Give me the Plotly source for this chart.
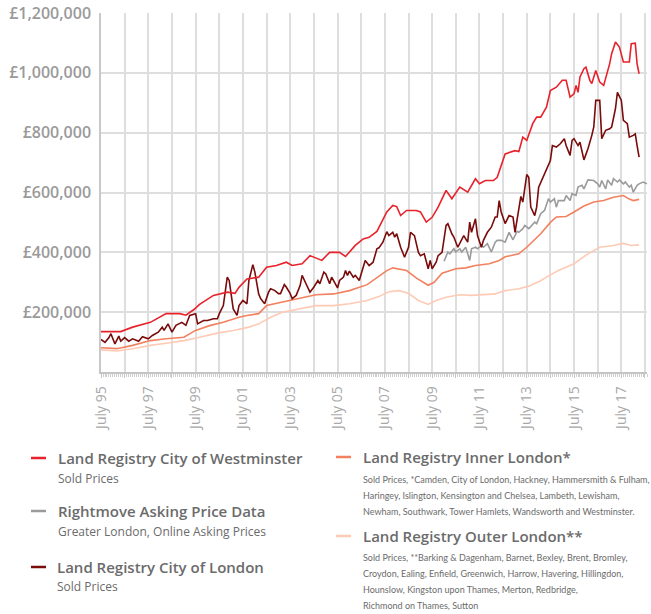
import plotly.graph_objects as go

# ---------------- data (values in £ thousands) ----------------
westminster_dates = ["1995-07","1996-05","1996-11","1997-08","1998-04","1998-11","1999-02","1999-06","1999-09","2000-04",
    "2000-11","2001-03","2001-05","2001-09","2002-03","2002-07","2002-12","2003-05","2003-08","2004-01",
    "2004-05","2004-11","2005-03","2005-08","2005-11","2006-04","2006-08","2006-11","2007-03","2007-08",
    "2007-11","2008-01","2008-03","2008-06","2008-11","2009-01","2009-04","2009-07","2009-10","2010-02",
    "2010-05","2010-09","2011-01","2011-05","2011-07","2011-10","2012-02","2012-04","2012-08","2012-11",
    "2013-01","2013-03","2013-05","2013-07","2013-10","2013-12","2014-02","2014-05","2014-07","2014-10",
    "2015-01","2015-03","2015-05","2015-07","2015-08","2015-09","2015-10","2015-12","2016-01","2016-03",
    "2016-04","2016-06","2016-08","2016-10","2017-01","2017-02","2017-04","2017-06","2017-08","2017-11",
    "2017-12","2018-02","2018-03","2018-04"]
westminster_k = [135,135,150,166,195,195,190,208,226,256,
    267,263,283,311,317,350,356,367,356,362,
    389,373,400,400,386,423,445,450,470,535,
    557,553,523,540,540,535,501,517,551,607,
    579,618,601,646,629,640,640,651,729,735,
    740,737,785,774,830,852,852,885,941,952,
    975,975,919,930,958,935,986,1014,1019,975,
    964,1008,969,958,1030,1064,1103,1086,1036,1036,
    1097,1099,1030,997]

london_dates = ["1995-07","1995-09","1995-11","1995-12","1996-02","1996-04","1996-05","1996-07","1996-09","1996-11",
    "1997-02","1997-04","1997-07","1997-09","1997-12","1998-02","1998-03","1998-05","1998-07","1998-09",
    "1998-12","1999-02","1999-04","1999-07","1999-08","1999-11","2000-01","2000-04","2000-06","2000-07",
    "2000-09","2000-11","2000-12","2001-02","2001-04","2001-05","2001-07","2001-09","2001-10","2001-12",
    "2002-01","2002-03","2002-04","2002-06","2002-08","2002-09","2002-11","2003-01","2003-02","2003-04",
    "2003-05","2003-07","2003-08","2003-10","2003-12","2004-01","2004-03","2004-05","2004-07","2004-09",
    "2004-10","2004-12","2005-01","2005-03","2005-04","2005-07","2005-08","2005-10","2005-11","2005-12",
    "2006-01","2006-03","2006-04","2006-06","2006-08","2006-09","2006-11","2007-01","2007-03","2007-04",
    "2007-06","2007-08","2007-09","2007-11","2007-12","2008-01","2008-03","2008-05","2008-07","2008-08",
    "2008-10","2008-12","2009-01","2009-03","2009-05","2009-06","2009-07","2009-09","2009-10","2009-12",
    "2010-02","2010-03","2010-05","2010-06","2010-08","2010-10","2010-11","2011-01","2011-02","2011-03",
    "2011-05","2011-06","2011-08","2011-09","2011-11","2012-01","2012-03","2012-04","2012-05","2012-06",
    "2012-08","2012-10","2012-12","2013-01","2013-03","2013-04","2013-05","2013-07","2013-08","2013-09",
    "2013-11","2013-12","2014-01","2014-03","2014-05","2014-07","2014-08","2014-10","2014-12","2015-02",
    "2015-03","2015-05","2015-06","2015-07","2015-09","2015-10","2015-12","2016-02","2016-04","2016-05",
    "2016-06","2016-08","2016-09","2016-11","2017-01","2017-02","2017-04","2017-05","2017-07","2017-08",
    "2017-10","2017-11","2018-01","2018-02","2018-03","2018-04"]
london_k = [109,99,115,128,94,120,103,115,103,111,
    103,118,111,122,133,150,139,161,133,156,
    166,156,189,195,161,172,172,178,178,195,
    222,317,306,211,189,222,239,228,306,359,
    334,261,245,228,267,278,273,262,262,292,
    284,262,245,256,289,323,295,267,284,306,
    295,334,328,295,317,281,306,317,339,323,
    337,317,323,306,350,373,356,367,412,415,
    434,469,456,467,451,462,417,384,417,467,
    456,400,389,395,345,373,345,367,389,400,
    490,496,462,451,417,445,456,434,501,467,
    512,456,417,440,467,484,518,518,573,535,
    496,523,518,467,551,587,568,660,651,551,
    523,551,618,646,674,707,757,752,763,780,
    757,724,774,780,757,768,709,746,791,819,
    908,908,780,808,813,819,880,935,908,841,
    830,785,791,796,757,718]

rightmove_dates = ["2010-01","2010-03","2010-04","2010-06","2010-07","2010-09","2010-10","2010-12","2011-02","2011-03",
    "2011-05","2011-06","2011-08","2011-09","2011-11","2012-01","2012-03","2012-04","2012-06","2012-08",
    "2012-10","2012-12","2013-02","2013-03","2013-05","2013-06","2013-08","2013-11","2013-12","2014-02",
    "2014-04","2014-06","2014-07","2014-09","2014-10","2014-11","2015-02","2015-03","2015-05","2015-06",
    "2015-08","2015-09","2015-11","2015-12","2016-02","2016-04","2016-05","2016-07","2016-08","2016-09",
    "2016-11","2016-12","2017-02","2017-03","2017-05","2017-06","2017-08","2017-09","2017-11","2017-12",
    "2018-01","2018-03","2018-04","2018-06","2018-08"]
rightmove_k = [370,401,395,412,401,412,401,417,373,412,
    417,412,423,417,429,401,434,440,440,434,
    467,442,470,467,479,490,479,501,496,529,
    540,579,568,579,551,573,573,590,573,596,
    590,618,624,612,642,642,640,629,618,640,
    612,642,624,646,635,642,629,635,618,624,
    601,624,629,635,629]

inner_dates = ["1995-07","1996-03","1996-11","1997-08","1998-04","1999-01","1999-07","2000-02","2000-09","2001-02",
    "2001-05","2001-09","2002-03","2002-07","2003-03","2003-12","2004-08","2005-05","2006-01","2006-10",
    "2007-04","2007-08","2007-11","2008-06","2008-11","2009-05","2009-08","2009-12","2010-07","2010-12",
    "2011-05","2011-12","2012-05","2012-08","2013-03","2013-07","2014-02","2014-07","2014-10","2015-03",
    "2015-07","2015-12","2016-05","2016-10","2017-03","2017-08","2017-11","2018-01","2018-04"]
inner_k = [81,78,89,105,111,116,139,155,166,178,
    183,189,195,222,233,245,258,261,272,292,
    320,339,348,339,314,290,300,330,345,348,
    356,362,373,385,395,417,462,500,518,520,
    535,555,568,573,584,590,578,573,577]

outer_dates = ["1995-07","1996-03","1996-11","1997-08","1998-04","1999-01","1999-09","2000-06","2001-02","2001-10",
    "2002-03","2002-09","2003-03","2003-12","2004-08","2005-05","2006-01","2006-10","2007-04","2007-09",
    "2008-02","2008-07","2008-12","2009-05","2009-09","2010-02","2010-09","2011-03","2011-10","2012-03",
    "2012-08","2013-03","2013-08","2014-02","2014-05","2014-11","2015-03","2015-07","2016-02","2016-08",
    "2017-03","2017-08","2017-12","2018-04"]
outer_k = [74,70,78,89,96,105,116,130,139,150,
    161,183,200,211,222,222,228,239,252,268,
    272,263,239,226,239,250,258,256,259,261,
    272,278,287,305,317,339,350,362,395,417,
    423,430,423,425]

y_ticks = [200000, 400000, 600000, 800000, 1000000, 1200000]
x_grid_years = list(range(1995, 2019))          # gridline every July
x_label_text = [f"July {str(y)[2:]}" if (y - 1995) % 2 == 0 else "" for y in x_grid_years]

# ---------------- styling ----------------
C_WEST = "#e8222b"
C_LON = "#7a0b0b"
C_RM = "#9b9b9b"
C_INNER = "#f2815f"
C_OUTER = "#fdcbb5"
FONT = "Open Sans"
SMALL = "Lato"

fig = go.Figure()

def add(dates, vals, color):
    fig.add_trace(go.Scatter(x=dates, y=[v * 1000 for v in vals], mode="lines",
                             line=dict(color=color, width=1.6), showlegend=False,
                             hoverinfo="skip"))

add(outer_dates, outer_k, C_OUTER)
add(inner_dates, inner_k, C_INNER)
add(rightmove_dates, rightmove_k, C_RM)
add(london_dates, london_k, C_LON)
add(westminster_dates, westminster_k, C_WEST)

W, H = 651, 614
L, R, T, B = 101, 647, 13, 372

def px_x(p):
    return (p - L) / (R - L)

def px_y(p):
    return (B - p) / (B - T)

annotations = []
shapes = []

def legend_item(dash_x, title_x, title_y, title, subs, sub_y0, sub_step, sub_font, sub_size, color):
    shapes.append(dict(type="line", xref="paper", yref="paper",
                       x0=px_x(dash_x), x1=px_x(dash_x + 15), y0=px_y(title_y), y1=px_y(title_y),
                       line=dict(color=color, width=2.5)))
    annotations.append(dict(xref="paper", yref="paper", x=px_x(title_x), y=px_y(title_y),
                            xanchor="left", yanchor="middle", showarrow=False, text=title,
                            font=dict(family=FONT, size=15, color="#6b6b6b", weight=600)))
    for i, s in enumerate(subs):
        annotations.append(dict(xref="paper", yref="paper", x=px_x(title_x), y=px_y(sub_y0 + i * sub_step),
                                xanchor="left", yanchor="middle", showarrow=False, text=s,
                                font=dict(family=sub_font, size=sub_size, color="#6b6b6b")))

legend_item(31, 56, 458, "Land Registry City of Westminster", ["Sold Prices"], 478, 17, FONT, 12, C_WEST)
legend_item(31, 56, 511, "Rightmove Asking Price Data", ["Greater London, Online Asking Prices"], 531, 17, FONT, 12, C_RM)
legend_item(31, 55, 567, "Land Registry City of London", ["Sold Prices"], 587, 17, FONT, 12, C_LON)
legend_item(336, 361, 457, "Land Registry Inner London*",
            ["Sold Prices, *Camden, City of London, Hackney, Hammersmith &amp; Fulham,",
             "Haringey, Islington, Kensington and Chelsea, Lambeth, Lewisham,",
             "Newham, Southwark, Tower Hamlets, Wandsworth and Westminster."],
            479, 16.2, SMALL, 9, C_INNER)
legend_item(336, 361, 536, "Land Registry Outer London**",
            ["Sold Prices, **Barking &amp; Dagenham, Barnet, Bexley, Brent, Bromley,",
             "Croydon, Ealing, Enfield, Greenwich, Harrow, Havering, Hillingdon,",
             "Hounslow, Kingston upon Thames, Merton, Redbridge,",
             "Richmond on Thames, Sutton"],
            557, 16.2, SMALL, 9, C_OUTER)

fig.update_layout(
    width=W, height=H,
    margin=dict(l=L, r=W - R, t=T, b=H - B, pad=0),
    paper_bgcolor="white", plot_bgcolor="white",
    showlegend=False,
    annotations=annotations, shapes=shapes,
    xaxis=dict(
        type="date",
        range=["1995-07-01", "2018-08-01"],
        tickmode="array",
        tickvals=[f"{y}-07-01" for y in x_grid_years],
        ticktext=x_label_text,
        tickangle=-90,
        tickfont=dict(family=FONT, size=14, color="#a8a8a8"),
        showgrid=True, gridcolor="#dedede", gridwidth=1.5,
        showline=True, linecolor="#c4c4c4", linewidth=1.5,
        ticks="outside", ticklen=4, tickcolor="#c4c4c4", tickwidth=1,
        minor=dict(ticks="outside", ticklen=3, tickcolor="#cfcfcf", tickwidth=1,
                   dtick="M1", tick0="1995-07-01", showgrid=False),
        ticklabelstandoff=3,
        zeroline=False, fixedrange=True, automargin=False,
    ),
    yaxis=dict(
        range=[0, 1200000],
        tickmode="array",
        tickvals=y_ticks,
        ticktext=[f"£{v:,}" for v in y_ticks],
        tickfont=dict(family=FONT, size=16, color="#9a9a9a", weight=600),
        showgrid=True, gridcolor="#dedede", gridwidth=1.5,
        showline=True, linecolor="#c8c8c8", linewidth=1.5,
        ticks="", ticklabelstandoff=5, ticklabeloverflow="allow",
        zeroline=False, fixedrange=True, automargin=False,
    ),
)

# remove the browser's default 8px page margin so the figure sits at the window origin
fig.write_html("out.html", config={"displayModeBar": False},
               post_script="document.body.style.margin='0px';")
